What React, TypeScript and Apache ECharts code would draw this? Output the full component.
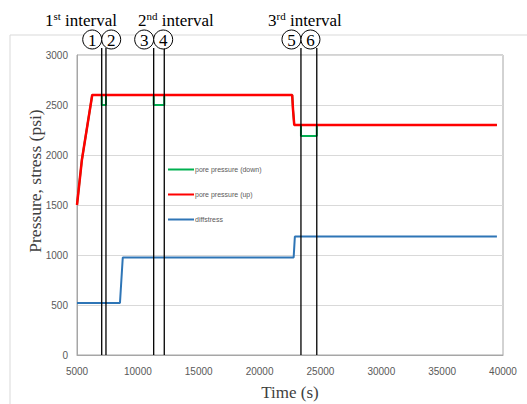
import React, { useEffect, useRef } from "react";
import * as echarts from "echarts";

// ---- data ----
const seriesNames = ["pore pressure (down)", "pore pressure (up)", "diffstress"];

const poreDown: [number, number][] = [
  [5000, 1500], [5400, 1950], [6250, 2600],
  [7030, 2600], [7030, 2500], [7380, 2500], [7380, 2600],
  [11300, 2600], [11300, 2500], [12170, 2500], [12170, 2600],
  [22680, 2600], [22750, 2450], [22850, 2300],
  [23400, 2300], [23400, 2190], [24700, 2190], [24700, 2300],
  [39500, 2300],
];

const poreUp: [number, number][] = [
  [5000, 1500], [5400, 1950], [6250, 2600],
  [22680, 2600], [22750, 2450], [22850, 2300],
  [39500, 2300],
];

const diffStress: [number, number][] = [
  [5000, 520], [8530, 520], [8760, 975],
  [22800, 975], [22900, 1185], [39500, 1185],
];

const eventTimes = [7030, 7380, 11300, 12170, 23400, 24700];
const eventLabels = ["1", "2", "3", "4", "5", "6"];

const intervalTitles = [
  { num: "1", sup: "st" },
  { num: "2", sup: "nd" },
  { num: "3", sup: "rd" },
];

const yAxisTitle = "Pressure, stress (psi)";
const xAxisTitle = "Time (s)";

const colors = ["#00b050", "#ff0000", "#2e75b6"];

const SERIF = "'Liberation Serif', 'Times New Roman', serif";
const SANS = "'Liberation Sans', Arial, sans-serif";

export default function App() {
  const ref = useRef<HTMLDivElement>(null);

  useEffect(() => {
    if (!ref.current) return;
    const chart = echarts.init(ref.current, undefined, { renderer: "svg" });

    const titleLeft = [45, 138, 268];
    const R = 9.5;

    const option: any = {
      animation: false,
      backgroundColor: "#ffffff",
      grid: {
        left: 77,
        right: 24,
        top: 55,
        bottom: 49,
        show: true,
        borderColor: "#a6a6a6",
        borderWidth: 1,
        outerBoundsMode: "none",
        containLabel: false,
      },
      legend: {
        orient: "vertical",
        left: 163,
        top: 161,
        icon: "rect",
        itemWidth: 26,
        itemHeight: 2,
        itemGap: 18,
        data: seriesNames,
        textStyle: { color: "#595959", fontSize: 7, fontFamily: SANS, padding: [0, 0, 0, -4] },
      },
      xAxis: {
        type: "value",
        min: 5000,
        max: 40000,
        interval: 5000,
        name: xAxisTitle,
        nameLocation: "middle",
        nameGap: 29,
        nameMoveOverlap: false,
        nameTextStyle: { fontFamily: SERIF, fontSize: 17, color: "#404040" },
        axisLine: { show: true, lineStyle: { color: "#a6a6a6" } },
        axisTick: { show: false },
        splitLine: { show: false },
        axisLabel: {
          color: "#595959",
          fontSize: 10,
          fontFamily: SANS,
          margin: 11,
          formatter: (v: number) => String(v),
        },
      },
      yAxis: {
        type: "value",
        min: 0,
        max: 3000,
        interval: 500,
        axisLine: { show: true, lineStyle: { color: "#a6a6a6" } },
        axisTick: { show: false },
        splitLine: { show: true, lineStyle: { color: "#d9d9d9" } },
        axisLabel: {
          color: "#595959",
          fontSize: 10,
          fontFamily: SANS,
          margin: 9,
          formatter: (v: number) => String(v),
        },
      },
      graphic: [
        {
          type: "rect",
          shape: { x: 10, y: 35, width: 700, height: 600 },
          style: { fill: "none", stroke: "#d9d9d9", lineWidth: 1 },
          silent: true,
          z: -1,
        },
        {
          type: "text",
          x: 35,
          y: 181,
          rotation: Math.PI / 2,
          style: {
            text: yAxisTitle,
            fontFamily: SERIF,
            fontSize: 17.5,
            fill: "#404040",
            align: "center",
            verticalAlign: "middle",
          },
        },
        ...intervalTitles.map((t, i) => ({
          type: "text",
          left: titleLeft[i],
          top: 10,
          style: {
            text: `{n|${t.num}}{s|${t.sup}}{t| interval}`,
            rich: {
              n: { fontFamily: SERIF, fontSize: 17, lineHeight: 20, fill: "#000" },
              s: { fontFamily: SERIF, fontSize: 11, lineHeight: 11, verticalAlign: "top", fill: "#000" },
              t: { fontFamily: SERIF, fontSize: 17, lineHeight: 20, fill: "#000" },
            },
          },
        })),
      ],
      series: [
        {
          name: seriesNames[0],
          type: "line",
          data: poreDown,
          showSymbol: false,
          lineStyle: { color: colors[0], width: 2 },
          itemStyle: { color: colors[0] },
        },
        {
          name: seriesNames[1],
          type: "line",
          data: poreUp,
          showSymbol: false,
          lineStyle: { color: colors[1], width: 2.5 },
          itemStyle: { color: colors[1] },
        },
        {
          name: seriesNames[2],
          type: "line",
          data: diffStress,
          showSymbol: false,
          lineStyle: { color: colors[2], width: 2 },
          itemStyle: { color: colors[2] },
        },
        {
          type: "custom",
          clip: false,
          silent: true,
          z: 5,
          data: eventTimes.map((t) => [t, 0]),
          encode: { x: 0, y: 1 },
          renderItem: (params: any, api: any) => {
            const idx = params.dataIndex;
            const t = api.value(0);
            const bottom = api.coord([t, 0]);
            const top = api.coord([t, 3000]);
            const anchorT = eventTimes[idx - (idx % 2)];
            const ax = api.coord([anchorT, 0])[0];
            const cx = idx % 2 === 0 ? ax - R : ax + R;
            const cy = top[1] - 15.5;
            return {
              type: "group",
              children: [
                {
                  type: "line",
                  shape: { x1: bottom[0], y1: bottom[1], x2: bottom[0], y2: cy + R - 1 },
                  style: { stroke: "#000", lineWidth: 1.3 },
                  z2: 1,
                },
                {
                  type: "circle",
                  shape: { cx, cy, r: R },
                  style: { fill: "#fff", stroke: "#000", lineWidth: 1 },
                  z2: 10,
                },
                {
                  type: "text",
                  x: cx,
                  y: cy + 0.5,
                  style: {
                    text: eventLabels[idx],
                    fontFamily: SERIF,
                    fontSize: 17,
                    fill: "#000",
                    align: "center",
                    verticalAlign: "middle",
                  },
                  z2: 11,
                },
              ],
            };
          },
        },
      ],
    };

    chart.setOption(option);
    return () => chart.dispose();
  }, []);

  return <div ref={ref} style={{ width: 527, height: 404, position: "absolute", left: 0, top: 0 }} />;
}
